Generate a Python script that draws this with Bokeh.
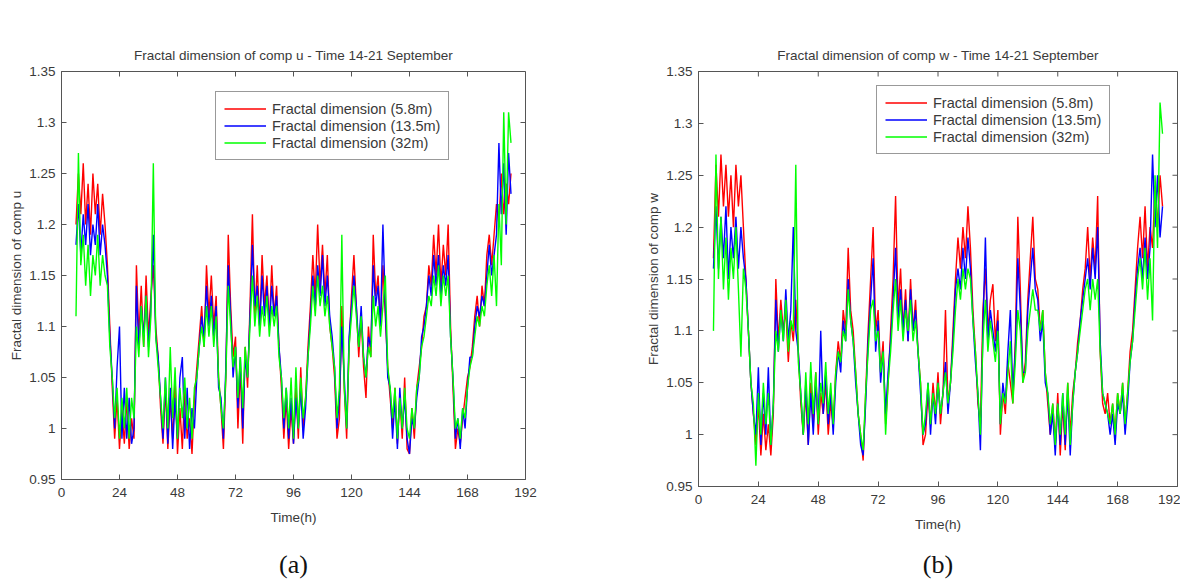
from bokeh.plotting import figure
from bokeh.layouts import row
from bokeh.models import (Range1d, FixedTicker, CustomJSTickFormatter,
                          Legend, LegendItem, LinearAxis)
from bokeh.embed import file_html
from bokeh.resources import INLINE

# axis ticks
hour_ticks = [0, 24, 48, 72, 96, 120, 144, 168, 192]
dim_ticks = [0.95, 1.0, 1.05, 1.1, 1.15, 1.2, 1.25, 1.3, 1.35]
first_hour = 6  # series start at hour 6, one value per hour

series_names = ["Fractal dimension (5.8m)", "Fractal dimension (13.5m)",
                "Fractal dimension (32m)"]
series_colors = ["#ff0000", "#0000ff", "#00ff00"]

# (a) comp u
u_58 = [1.20, 1.25, 1.21, 1.26, 1.20, 1.24, 1.19, 1.25, 1.21, 1.24,
        1.19, 1.23, 1.20, 1.16, 1.10, 1.04, 0.99, 1.03, 0.98, 1.02,
        0.985, 1.03, 0.98, 1.01, 0.99, 1.16, 1.09, 1.14, 1.08, 1.15,
        1.09, 1.13, 1.16, 1.10, 1.07, 1.02, 0.985, 1.04, 0.98, 1.03,
        0.99, 1.05, 0.975, 1.02, 0.98, 1.04, 0.99, 1.01, 0.975, 1.03,
        1.06, 1.09, 1.12, 1.08, 1.16, 1.11, 1.15, 1.10, 1.13, 1.05,
        1.02, 0.98, 1.05, 1.19, 1.12, 1.07, 1.09, 1.00, 1.06, 0.985,
        1.08, 1.04, 1.12, 1.21, 1.11, 1.16, 1.10, 1.17, 1.12, 1.15,
        1.10, 1.16, 1.11, 1.14, 1.08, 1.04, 0.99, 1.03, 0.98, 1.02,
        0.985, 1.04, 0.99, 1.06, 1.00, 1.03, 1.08, 1.12, 1.17, 1.13,
        1.20, 1.14, 1.18, 1.13, 1.17, 1.10, 1.08, 1.05, 0.99, 1.01,
        1.12, 1.04, 0.99, 1.08, 1.13, 1.17, 1.12, 1.07, 1.11, 1.06,
        1.03, 1.10, 1.07, 1.19, 1.13, 1.15, 1.10, 1.16, 1.11, 1.06,
        1.03, 1.00, 1.04, 0.985, 1.03, 0.99, 1.05, 0.98, 0.975, 1.02,
        0.99, 1.04, 1.06, 1.08, 1.11, 1.12, 1.16, 1.14, 1.19, 1.15,
        1.20, 1.14, 1.18, 1.15, 1.20, 1.10, 1.04, 0.98, 1.00, 0.985,
        1.01, 1.03, 1.05, 1.06, 1.08, 1.11, 1.13, 1.10, 1.14, 1.12,
        1.17, 1.19, 1.16, 1.19, 1.22, 1.20, 1.25, 1.21, 1.24, 1.22,
        1.25]
u_135 = [1.18, 1.22, 1.17, 1.21, 1.18, 1.22, 1.17, 1.20, 1.18, 1.22,
         1.17, 1.20, 1.18, 1.15, 1.09, 1.05, 1.00, 1.06, 1.10, 0.99,
         1.04, 0.99, 1.03, 0.985, 1.00, 1.14, 1.08, 1.12, 1.09, 1.13,
         1.08, 1.12, 1.19, 1.09, 1.07, 1.03, 0.99, 1.05, 0.985, 1.04,
         0.98, 1.03, 0.99, 1.05, 1.07, 0.99, 1.04, 0.98, 1.02, 1.00,
         1.05, 1.08, 1.11, 1.09, 1.14, 1.10, 1.13, 1.09, 1.12, 1.04,
         1.03, 0.99, 1.06, 1.16, 1.11, 1.05, 1.08, 1.02, 1.07, 1.00,
         1.07, 1.05, 1.11, 1.18, 1.12, 1.14, 1.10, 1.15, 1.11, 1.14,
         1.10, 1.14, 1.11, 1.13, 1.08, 1.05, 1.00, 1.04, 0.99, 1.03,
         0.985, 1.03, 1.00, 1.04, 0.99, 1.02, 1.07, 1.11, 1.15, 1.12,
         1.16, 1.13, 1.17, 1.12, 1.15, 1.11, 1.09, 1.06, 1.00, 1.03,
         1.10, 1.05, 1.00, 1.09, 1.12, 1.15, 1.12, 1.08, 1.12, 1.07,
         1.05, 1.09, 1.08, 1.16, 1.12, 1.14, 1.10, 1.20, 1.12, 1.05,
         1.04, 0.99, 1.03, 0.98, 1.04, 1.00, 1.03, 0.99, 0.975, 1.01,
         1.00, 1.03, 1.05, 1.09, 1.10, 1.12, 1.15, 1.13, 1.17, 1.14,
         1.17, 1.13, 1.16, 1.14, 1.17, 1.09, 1.05, 0.99, 1.01, 0.98,
         1.02, 1.00, 1.04, 1.07, 1.07, 1.10, 1.12, 1.11, 1.13, 1.12,
         1.15, 1.18, 1.15, 1.17, 1.19, 1.28, 1.21, 1.26, 1.19, 1.27,
         1.23]
u_32 = [1.11, 1.27, 1.16, 1.19, 1.14, 1.18, 1.13, 1.17, 1.15, 1.19,
        1.14, 1.17, 1.15, 1.14, 1.08, 1.05, 1.01, 1.04, 0.99, 1.03,
        1.00, 1.04, 0.99, 1.03, 1.01, 1.10, 1.07, 1.12, 1.08, 1.13,
        1.07, 1.11, 1.26, 1.09, 1.06, 1.03, 1.00, 1.05, 1.00, 1.08,
        1.01, 1.06, 0.99, 1.04, 1.01, 1.05, 1.00, 1.03, 0.99, 1.04,
        1.05, 1.08, 1.10, 1.08, 1.12, 1.09, 1.12, 1.08, 1.11, 1.05,
        1.02, 1.00, 1.05, 1.14, 1.10, 1.06, 1.08, 1.03, 1.07, 1.02,
        1.08, 1.05, 1.10, 1.15, 1.10, 1.13, 1.09, 1.12, 1.10, 1.13,
        1.09, 1.12, 1.10, 1.12, 1.07, 1.05, 1.01, 1.04, 1.00, 1.05,
        0.99, 1.06, 1.00, 1.05, 1.01, 1.03, 1.07, 1.10, 1.14, 1.11,
        1.15, 1.12, 1.14, 1.11, 1.13, 1.10, 1.08, 1.06, 1.01, 1.04,
        1.19, 1.04, 1.00, 1.08, 1.11, 1.14, 1.11, 1.08, 1.11, 1.07,
        1.05, 1.08, 1.07, 1.13, 1.10, 1.12, 1.09, 1.12, 1.15, 1.06,
        1.04, 1.01, 1.04, 0.99, 1.03, 1.00, 1.04, 1.00, 0.99, 1.02,
        1.00, 1.04, 1.05, 1.08, 1.09, 1.11, 1.13, 1.12, 1.15, 1.13,
        1.16, 1.12, 1.15, 1.13, 1.15, 1.09, 1.05, 1.00, 1.01, 0.99,
        1.02, 1.01, 1.04, 1.06, 1.07, 1.09, 1.11, 1.10, 1.12, 1.11,
        1.14, 1.16, 1.13, 1.17, 1.12, 1.22, 1.16, 1.31, 1.20, 1.31,
        1.28]

# (b) comp w
w_58 = [1.17, 1.26, 1.21, 1.27, 1.22, 1.26, 1.21, 1.25, 1.20, 1.26,
        1.22, 1.25, 1.20, 1.15, 1.10, 1.05, 1.02, 0.99, 1.03, 0.98,
        1.02, 0.985, 1.01, 0.98, 1.02, 1.15, 1.09, 1.13, 1.10, 1.12,
        1.07, 1.11, 1.09, 1.13, 1.08, 1.03, 1.00, 1.04, 0.99, 1.05,
        1.01, 1.06, 1.00, 1.04, 1.02, 1.05, 1.00, 1.03, 1.01, 1.06,
        1.09, 1.07, 1.12, 1.10, 1.18, 1.12, 1.10, 1.06, 1.02, 1.00,
        0.975, 1.04, 1.10, 1.15, 1.20, 1.10, 1.12, 1.06, 1.09, 1.01,
        1.05, 1.10, 1.15, 1.23, 1.12, 1.16, 1.10, 1.14, 1.09, 1.15,
        1.10, 1.13, 1.08, 1.05, 0.99, 1.00, 1.04, 1.01, 1.05, 1.02,
        1.06, 1.01, 1.04, 1.12, 1.03, 1.05, 1.10, 1.15, 1.19, 1.16,
        1.20, 1.17, 1.22, 1.18, 1.12, 1.08, 1.03, 1.01, 1.12, 1.16,
        1.10, 1.13, 1.145, 1.09, 1.12, 1.00, 1.04, 1.02, 1.07, 1.05,
        1.03, 1.09, 1.21, 1.14, 1.05, 1.07, 1.13, 1.17, 1.21, 1.15,
        1.14, 1.10, 1.12, 1.06, 1.03, 1.00, 1.03, 0.99, 1.04, 0.98,
        1.03, 0.985, 1.05, 1.00, 1.04, 1.06, 1.09, 1.11, 1.14, 1.16,
        1.20, 1.15, 1.19, 1.16, 1.23, 1.08, 1.03, 1.02, 1.04, 1.01,
        1.03, 1.00, 1.04, 1.02, 1.05, 1.01, 1.04, 1.08, 1.10, 1.14,
        1.18, 1.21, 1.17, 1.22, 1.16, 1.20, 1.18, 1.24, 1.20, 1.25,
        1.22]
w_135 = [1.16, 1.22, 1.16, 1.21, 1.17, 1.22, 1.15, 1.20, 1.17, 1.21,
         1.16, 1.20, 1.17, 1.15, 1.10, 1.05, 1.02, 1.00, 1.065, 0.99,
         1.04, 1.00, 1.065, 0.99, 1.03, 1.13, 1.08, 1.12, 1.09, 1.14,
         1.09, 1.12, 1.20, 1.10, 1.08, 1.04, 1.00, 1.05, 0.99, 1.04,
         1.00, 1.05, 1.01, 1.10, 1.02, 1.06, 1.01, 1.04, 1.00, 1.05,
         1.08, 1.06, 1.11, 1.09, 1.15, 1.11, 1.09, 1.05, 1.02, 0.99,
         0.98, 1.03, 1.09, 1.13, 1.17, 1.08, 1.11, 1.05, 1.08, 1.02,
         1.06, 1.09, 1.13, 1.18, 1.11, 1.14, 1.10, 1.13, 1.09, 1.14,
         1.10, 1.12, 1.08, 1.04, 1.00, 1.01, 1.05, 1.00, 1.04, 1.01,
         1.05, 1.02, 1.04, 1.07, 1.02, 1.05, 1.09, 1.14, 1.16, 1.14,
         1.18, 1.15, 1.19, 1.16, 1.11, 1.07, 1.04, 0.985, 1.10, 1.19,
         1.09, 1.12, 1.10, 1.08, 1.11, 1.01, 1.05, 1.03, 1.08, 1.12,
         1.04, 1.08, 1.17, 1.12, 1.06, 1.06, 1.12, 1.15, 1.18, 1.14,
         1.13, 1.09, 1.11, 1.05, 1.04, 1.00, 1.02, 0.98, 1.03, 0.99,
         1.04, 0.99, 1.04, 0.98, 1.03, 1.06, 1.08, 1.11, 1.13, 1.15,
         1.17, 1.14, 1.18, 1.15, 1.20, 1.09, 1.04, 1.03, 1.02, 1.00,
         1.02, 0.99, 1.03, 1.02, 1.04, 1.00, 1.03, 1.07, 1.09, 1.13,
         1.16, 1.18, 1.15, 1.19, 1.15, 1.18, 1.27, 1.20, 1.25, 1.19,
         1.22]
w_32 = [1.10, 1.27, 1.15, 1.21, 1.14, 1.19, 1.13, 1.18, 1.15, 1.20,
        1.14, 1.075, 1.16, 1.14, 1.10, 1.05, 1.03, 0.97, 1.04, 1.00,
        1.05, 1.01, 1.04, 0.99, 1.03, 1.10, 1.08, 1.12, 1.09, 1.13,
        1.08, 1.11, 1.10, 1.26, 1.07, 1.04, 1.00, 1.06, 1.01, 1.07,
        1.02, 1.06, 1.01, 1.05, 1.03, 1.07, 1.02, 1.05, 1.01, 1.06,
        1.08, 1.07, 1.10, 1.09, 1.14, 1.11, 1.09, 1.06, 1.02, 1.00,
        0.985, 1.04, 1.08, 1.12, 1.13, 1.09, 1.10, 1.06, 1.08, 1.00,
        1.05, 1.08, 1.12, 1.15, 1.10, 1.13, 1.09, 1.12, 1.10, 1.13,
        1.09, 1.11, 1.08, 1.05, 1.00, 1.02, 1.05, 1.01, 1.04, 1.02,
        1.05, 1.02, 1.04, 1.06, 1.03, 1.05, 1.08, 1.12, 1.15, 1.13,
        1.16, 1.14, 1.16, 1.15, 1.11, 1.08, 1.04, 1.00, 1.09, 1.13,
        1.08, 1.11, 1.09, 1.07, 1.10, 1.01, 1.04, 1.03, 1.06, 1.09,
        1.03, 1.07, 1.12, 1.10, 1.05, 1.06, 1.10, 1.12, 1.14, 1.12,
        1.12, 1.10, 1.12, 1.06, 1.04, 1.01, 1.03, 0.99, 1.03, 1.00,
        1.04, 1.00, 1.05, 0.99, 1.03, 1.06, 1.08, 1.10, 1.12, 1.14,
        1.15, 1.12, 1.15, 1.13, 1.15, 1.08, 1.04, 1.03, 1.02, 1.01,
        1.03, 1.00, 1.04, 1.02, 1.05, 1.01, 1.04, 1.07, 1.09, 1.12,
        1.15, 1.17, 1.14, 1.18, 1.13, 1.17, 1.11, 1.25, 1.18, 1.32,
        1.29]

FONT = "Liberation Sans"
TEXT = "#3a3a3a"
AXC = "#555555"
FS = "13.5px"
TICK = 5  # inward tick length, px

dim_fmt = CustomJSTickFormatter(code="return String(Math.round(tick * 100) / 100);")


def style_axis(ax):
    ax.major_tick_in = TICK
    ax.major_tick_out = 0
    ax.minor_tick_line_color = None
    ax.axis_line_color = AXC
    ax.major_tick_line_color = AXC
    ax.major_label_text_font = FONT
    ax.major_label_text_color = TEXT
    ax.major_label_text_font_size = FS
    ax.axis_label_text_font = FONT
    ax.axis_label_text_color = TEXT
    ax.axis_label_text_font_size = FS
    ax.axis_label_text_font_style = "normal"


def make_panel(title, ylabel, caption, series, frame, borders, legend_at, cap_gap):
    fw, fh = frame
    p = figure(frame_width=fw, frame_height=fh,
               x_range=Range1d(0, 192), y_range=Range1d(0.95, 1.35),
               min_border_left=borders[0], min_border_right=borders[1],
               min_border_top=borders[2], min_border_bottom=borders[3],
               output_backend="svg", toolbar_location=None,
               x_axis_label="Time(h)", y_axis_label=ylabel)
    p.title.text = title
    p.title.align = "center"
    p.title.text_font = FONT
    p.title.text_font_size = FS
    p.title.text_font_style = "normal"
    p.title.text_color = TEXT
    p.title.standoff = 17
    p.grid.visible = False
    p.outline_line_color = AXC
    p.background_fill_color = "white"
    p.border_fill_color = "white"

    p.xaxis.ticker = FixedTicker(ticks=hour_ticks)
    p.yaxis.ticker = FixedTicker(ticks=dim_ticks)
    p.yaxis.formatter = dim_fmt
    style_axis(p.xaxis[0])
    style_axis(p.yaxis[0])
    p.xaxis.major_label_standoff = 8
    p.xaxis.axis_label_standoff = 10
    p.yaxis.major_label_standoff = 6
    p.yaxis.axis_label_standoff = 2

    # inward ticks on the top and right edges of the box
    xr, yr = p.x_range, p.y_range
    dy = TICK * (yr.end - yr.start) / fh
    dx = TICK * (xr.end - xr.start) / fw
    p.segment(x0=hour_ticks, y0=[yr.end] * len(hour_ticks),
              x1=hour_ticks, y1=[yr.end - dy] * len(hour_ticks),
              line_color=AXC, line_width=1)
    p.segment(x0=[xr.end] * len(dim_ticks), y0=dim_ticks,
              x1=[xr.end - dx] * len(dim_ticks), y1=dim_ticks,
              line_color=AXC, line_width=1)

    items = []
    for vals, name, color in zip(series, series_names, series_colors):
        hours = list(range(first_hour, first_hour + len(vals)))
        r = p.line(hours, vals, line_color=color, line_width=1.4)
        items.append(LegendItem(label=name, renderers=[r]))

    leg = Legend(items=items, location=legend_at, margin=0, padding=8,
                 spacing=0, glyph_width=42, glyph_height=17, label_height=17,
                 label_standoff=6, label_text_font=FONT, label_text_font_size="14.5px",
                 label_text_color=TEXT, border_line_color="#333333",
                 border_line_width=1, background_fill_alpha=1.0)
    p.add_layout(leg, "center")

    # the panel caption sits under "Time(h)" as the label of a bare axis
    cap = LinearAxis(ticker=FixedTicker(ticks=[]), axis_label=caption)
    cap.axis_line_color = None
    cap.major_tick_line_color = None
    cap.minor_tick_line_color = None
    cap.major_label_standoff = 0
    cap.axis_label_standoff = cap_gap
    cap.axis_label_text_font = "Liberation Serif"
    cap.axis_label_text_font_size = "26px"
    cap.axis_label_text_font_style = "normal"
    cap.axis_label_text_color = "#111111"
    p.add_layout(cap, "below")
    return p


left = make_panel("Fractal dimension of comp u - Time 14-21 September",
                  "Fractal dimension of comp u", "(a)", [u_58, u_135, u_32],
                  (464, 408), (61, 67, 70, 102), (154, 319), 22)
right = make_panel("Fractal dimension of comp w - Time 14-21 September",
                   "Fractal dimension of comp w", "(b)", [w_58, w_135, w_32],
                   (479, 415), (106, 3, 71, 95), (178, 332), 15)

layout = row(left, right)
open("out.html", "w").write(file_html(layout, INLINE))
